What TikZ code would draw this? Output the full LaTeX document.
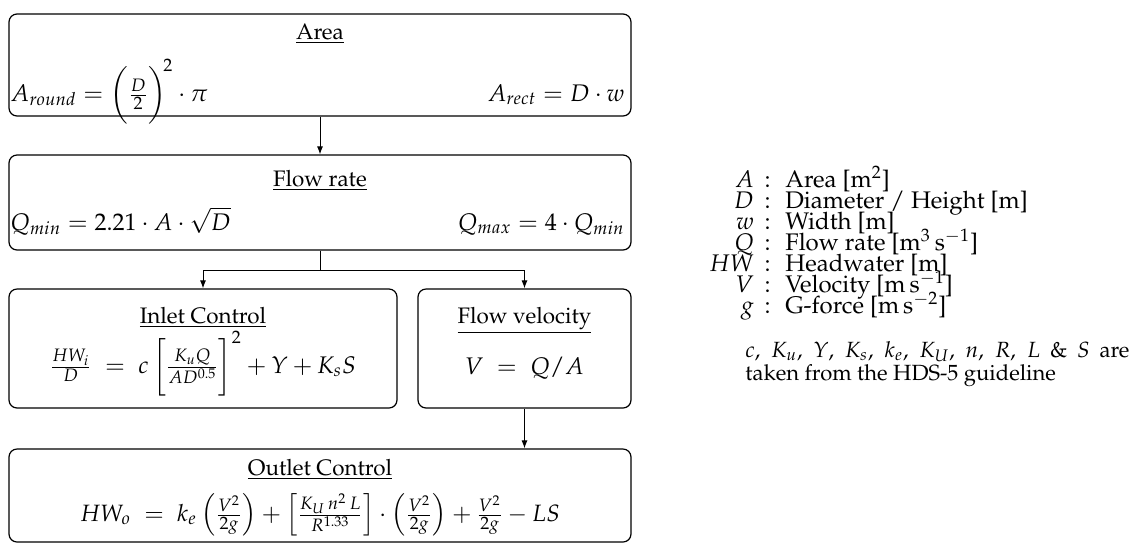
\documentclass[tikz,border=0pt]{standalone}
\usepackage[T1]{fontenc}
\usepackage{mathpazo}
\usetikzlibrary{arrows.meta}
\begin{document}
\begin{tikzpicture}[x=0.5pt,y=-0.5pt,
  box/.style={draw, line width=0.6pt, rounded corners=4pt, inner sep=0pt},
  ttl/.style={font=\fontsize{11.2pt}{14pt}\selectfont, inner sep=0pt},
  txt/.style={font=\fontsize{12pt}{14.5pt}\selectfont, inner sep=0pt},
  otx/.style={font=\fontsize{11.8pt}{14pt}\selectfont, inner sep=0pt},
  leg/.style={font=\fontsize{12pt}{14.5pt}\selectfont, inner sep=0pt},
  par/.style={font=\fontsize{11pt}{14pt}\selectfont, inner sep=0pt},
  arr/.style={line width=0.5pt, -{Latex[length=4pt,width=3pt]}},
]
\useasboundingbox (0,0) rectangle (1135,543);
% boxes
\node[box, minimum width=311pt, minimum height=51pt] (area) at (320,65) {};
\node[box, minimum width=311pt, minimum height=47.5pt] (flow) at (320,202.5) {};
\node[box, minimum width=194pt, minimum height=59.5pt] (inlet) at (203,348.5) {};
\node[box, minimum width=106.5pt, minimum height=59.5pt] (vel) at (524.5,348.5) {};
\node[box, minimum width=311pt, minimum height=46.5pt] (outlet) at (320,495.5) {};
% box texts
\node[ttl, anchor=base] (areaT) at (320,39) {\underline{Area}};
\node[txt, anchor=base west] (areaL) at (10,101) {$A_{round} = \biggl(\frac{D}{2}\biggr)^{\!2}\cdot\pi$};
\node[txt, anchor=base east] (areaR) at (625,101) {$A_{rect} = D\cdot w$};
\node[ttl, anchor=base] (flowT) at (320,186) {\underline{Flow rate}};
\node[txt, anchor=base west] (flowL) at (10,230) {$Q_{min} = 2.21\cdot A\cdot\sqrt{D}$};
\node[txt, anchor=base east] (flowR) at (625,230) {$Q_{max} = 4\cdot Q_{min}$};
\node[ttl, anchor=base] (inletT) at (203,323) {\underline{Inlet Control}};
\node[txt, anchor=base] (inletF) at (203,373) {$\frac{HW_i}{D} \;=\; c\,\biggl[\frac{K_u Q}{AD^{0.5}}\biggr]^{2} + Y + K_s S$};
\node[ttl, anchor=base] (velT) at (524.5,323) {\underline{Flow velocity}};
\node[txt, anchor=base] (velF) at (524.5,374) {$V \;=\; Q/A$};
\node[ttl, anchor=base] (outletT) at (320,475) {\underline{Outlet Control}};
\node[otx, anchor=base] (outletF) at (320,521) {$HW_o \;=\; k_e\,\Bigl(\frac{V^2}{2g}\Bigr) + \Bigl[\frac{K_U\,n^2\,L}{R^{1.33}}\Bigr]\cdot\Bigl(\frac{V^2}{2g}\Bigr) + \frac{V^2}{2g} - LS$};
% connectors
\draw[arr] (area.south) -- (flow.north);
\coordinate (split) at (320,270);
\draw[line width=0.5pt] (flow.south) -- (split);
\draw[arr] (split) -| (inlet.north);
\draw[arr] (split) -| (vel.north);
\draw[arr] (vel.south) -- (vel.south |- outlet.north);
% legend
\node[leg, anchor=base east] (s1) at (771,187) {$A$\;\,:};
\node[leg, anchor=base west] (d1) at (785,187) {Area [m$^2$]};
\node[leg, anchor=base east] (s2) at (771,208) {$D$\;\,:};
\node[leg, anchor=base west] (d2) at (785,208) {Diameter / Height [m]};
\node[leg, anchor=base east] (s3) at (771,229) {$w$\;\,:};
\node[leg, anchor=base west] (d3) at (785,229) {Width [m]};
\node[leg, anchor=base east] (s4) at (771,250) {$Q$\;\,:};
\node[leg, anchor=base west] (d4) at (785,250) {Flow rate [m$^3$\,s$^{-1}$]};
\node[leg, anchor=base east] (s5) at (771,271) {$HW$\;\,:};
\node[leg, anchor=base west] (d5) at (785,271) {Headwater [m]};
\node[leg, anchor=base east] (s6) at (771,292) {$V$\;\,:};
\node[leg, anchor=base west] (d6) at (785,292) {Velocity [m\,s$^{-1}$]};
\node[leg, anchor=base east] (s7) at (771,313) {$g$\;\,:};
\node[leg, anchor=base west] (d7) at (785,313) {G-force [m\,s$^{-2}$]};
\node[par, anchor=base west] (p1) at (745,357) {\makebox[192pt][s]{$c$, $K_u$, $Y$, $K_s$, $k_e$, $K_U$, $n$, $R$, $L$ \& $S$ are}};
\node[par, anchor=base west] (p2) at (745,380) {taken from the HDS-5 guideline};
\end{tikzpicture}
\end{document}
